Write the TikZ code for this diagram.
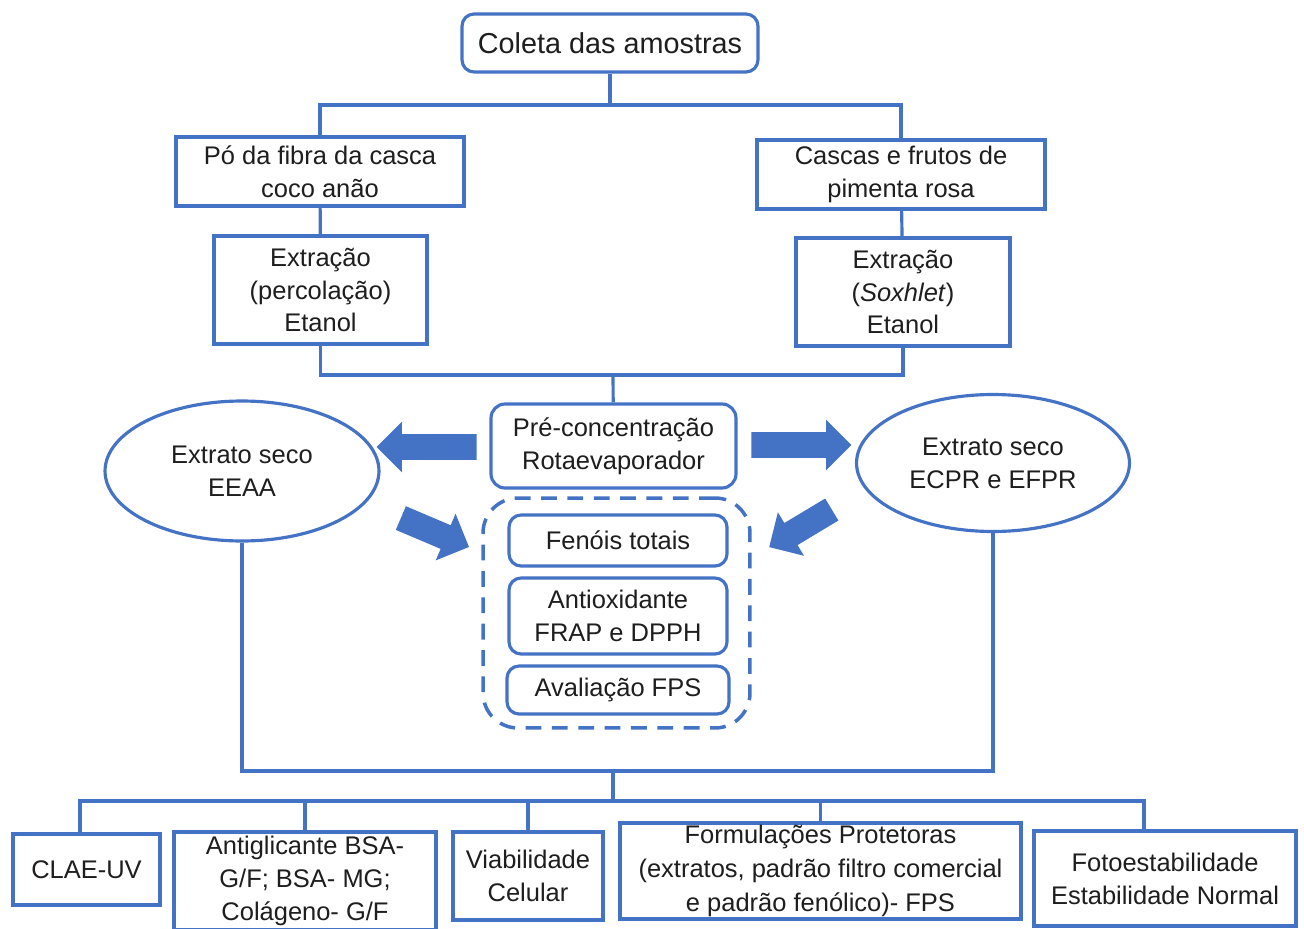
\documentclass[tikz,border=0pt]{standalone}
\usepackage{fontspec}
\setmainfont{Liberation Sans}
\usetikzlibrary{shapes.geometric}
\usetikzlibrary{shapes.arrows}
\definecolor{mblue}{RGB}{68,114,196}
\definecolor{mtext}{RGB}{30,30,30}
\tikzset{box/.style = {draw=mblue, line width=1.8pt, fill=white, text=mtext,
                       align=center, inner sep=0pt,
                       font=\fontsize{14.5}{18.7}\selectfont},
         rbox/.style = {box, rounded corners=0.24cm},
         lowbox/.style = {box, line width=2.3pt},
         link/.style = {draw=mblue, line width=1.8pt},
         bigarrow/.style = {single arrow, fill=mblue, inner sep=0.25cm,
                            single arrow head extend=0.25cm, minimum width=1cm}}

\begin{document}
\begin{tikzpicture}[x=0.02cm, y=-0.02cm]
    \useasboundingbox (0, 0) rectangle (1304, 929);

    % collection and samples
    \node [rbox, minimum width=5.92cm, minimum height=1.16cm,
           font=\fontsize{16.4}{19}\selectfont] (coleta) at (610, 43) {Coleta das amostras};
    \node [box, minimum width=5.76cm, minimum height=1.38cm] (po) at (320, 171.5)
          {P\'o da fibra da casca\\coco an\~ao};
    \node [box, minimum width=5.76cm, minimum height=1.38cm] (cascas) at (901, 174.5)
          {Cascas e frutos de\\pimenta rosa};
    \node [box, minimum width=4.26cm, minimum height=2.16cm] (extrL) at (320.5, 290)
          {Extra\c{c}\~ao\\(percola\c{c}\~ao)\\Etanol};
    \node [box, minimum width=4.28cm, minimum height=2.16cm] (extrR) at (903, 292)
          {Extra\c{c}\~ao\\(\textit{Soxhlet})\\Etanol};

    \coordinate (j1) at (610, 105);
    \coordinate (j2) at (613, 375);
    \draw [link] (coleta) -- (j1);
    \draw [link] (po.north) |- (j1) -| (cascas.north);
    \draw [link] (po) -- (extrL);
    \draw [link] (cascas) -- (extrR);
    \draw [link] (extrL.south) |- (j2) -| (extrR.south);

    % concentration and dry extracts
    \node [rbox, rounded corners=0.28cm, minimum width=4.9cm, minimum height=1.68cm] (pre) at (613.5, 446)
          {Pr\'e-concentra\c{c}\~ao\\Rotaevaporador};
    \draw [link] (j2) -- (pre);

    \node [box, ellipse, minimum width=5.48cm, minimum height=2.8cm] (elL) at (242, 471)
          {Extrato seco\\EEAA};
    \node [box, ellipse, minimum width=5.46cm, minimum height=2.74cm] (elR) at (993, 463)
          {Extrato seco\\ECPR e EFPR};

    \node [bigarrow, minimum height=2cm, shape border rotate=180] (arrL) at (433, 447) {};
    \node [bigarrow, minimum height=2cm] (arrR) at (795, 445) {};
    \node [bigarrow, minimum height=1.48cm, rotate=-23] (arrDL) at (429, 530) {};
    \node [bigarrow, minimum height=1.46cm, rotate=211] (arrDR) at (806, 525) {};

    % assays
    \node [draw=mblue, line width=2pt, dash pattern=on 9pt off 6pt, rounded corners=0.7cm,
           minimum width=5.34cm, minimum height=4.6cm] (grupo) at (616.5, 613) {};
    \node [rbox, minimum width=4.36cm, minimum height=1.02cm] (fenois) at (618, 540.5) {Fen\'ois totais};
    \node [rbox, minimum width=4.36cm, minimum height=1.52cm] (antiox) at (618, 616)
          {Antioxidante\\FRAP e DPPH};
    \node [rbox, minimum width=4.44cm, minimum height=0.96cm] (fps) at (618, 690) {Avalia\c{c}\~ao FPS};

    % final analyses
    \node [lowbox, minimum width=2.94cm, minimum height=1.42cm] (clae) at (86.5, 869.5) {CLAE-UV};
    \node [lowbox, minimum width=5.24cm, minimum height=1.96cm,
           font=\fontsize{14.5}{19}\selectfont] (antig) at (305, 881)
          {Antiglicante BSA-\\G/F; BSA- MG;\\Col\'ageno- G/F};
    \node [lowbox, minimum width=3cm, minimum height=1.76cm] (viab) at (528, 876)
          {Viabilidade\\Celular};
    \node [lowbox, minimum width=8.02cm, minimum height=1.92cm,
           font=\fontsize{14.5}{19.3}\selectfont] (form) at (820.5, 871)
          {Formula\c{c}\~oes Protetoras\\(extratos, padr\~ao filtro comercial\\e padr\~ao fen\'olico)- FPS};
    \node [lowbox, minimum width=5.24cm, minimum height=1.9cm] (foto) at (1165, 878.5)
          {Fotoestabilidade\\Estabilidade Normal};

    \coordinate (j3) at (613, 771);
    \coordinate (j4) at (613, 801);
    \draw [link] (elL.south) |- (j3) -| (elR.south);
    \draw [link] (j3) -- (j4);
    \draw [link] ([xshift=-0.13cm]clae.north) |- (j4) -| ([xshift=-0.42cm]foto.north);
    \draw [link] (antig.north) -- (antig.north |- j4);
    \draw [link] (viab.north) -- (viab.north |- j4);
    \draw [link] (form.north) -- (form.north |- j4);
  \end{tikzpicture}
\end{document}
